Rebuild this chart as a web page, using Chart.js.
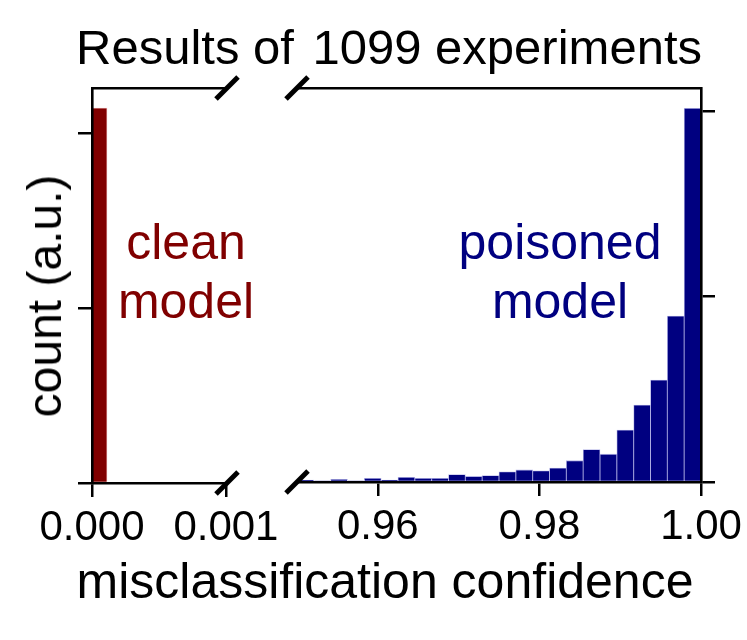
<!DOCTYPE html>
<html>
<head>
<meta charset="utf-8">
<script src="https://cdn.jsdelivr.net/npm/chart.js@4.4.1/dist/chart.umd.min.js"></script>
<style>
html,body{margin:0;padding:0;background:#fff;}
#wrap{position:relative;width:747px;height:640px;overflow:hidden;font-family:"Liberation Sans",Arial,sans-serif;color:#000;}
#wrap canvas{position:absolute;left:0;top:0;}
.t{position:absolute;white-space:nowrap;line-height:1;}
</style>
</head>
<body>
<div id="wrap">
  <canvas id="cl" width="747" height="640"></canvas>
  <canvas id="cr" width="747" height="640"></canvas>
  <div class="t" id="title" style="left:389px;top:23px;font-size:49px;transform:translateX(-50%);">Results of <span style="margin-left:5px">1099</span> experiments</div>
  <div class="t" id="ylab" style="left:45px;top:296px;font-size:48px;transform:translate(-50%,-50%) rotate(-90deg);">count (a.u.)</div>
  <div class="t" id="xlab" style="left:385px;top:556px;font-size:50px;transform:translateX(-50%);">misclassification confidence</div>
  <div class="t" style="left:186px;top:217px;font-size:50px;color:#800000;transform:translateX(-50%);">clean</div>
  <div class="t" style="left:186px;top:276px;font-size:50px;color:#800000;transform:translateX(-50%);">model</div>
  <div class="t" style="left:560px;top:217px;font-size:50px;color:#000080;transform:translateX(-50%);">poisoned</div>
  <div class="t" style="left:560px;top:276px;font-size:50px;color:#000080;transform:translateX(-50%);">model</div>
</div>
<script>
// ---------- data ----------
// clean model: histogram bins (bin start values) over 0 .. 0.001008
const cleanBinStarts = [0, 0.000112, 0.000224, 0.000336, 0.000448, 0.00056, 0.000672, 0.000784, 0.000896];
const cleanCounts    = [1071, 0, 0, 0, 0, 0, 0, 0, 0];
const cleanRange     = [0, 0.001008];
const cleanXTicks    = [0, 0.001];
const cleanYTicks    = [0, 500, 1000];
const cleanYMax      = 1128;

// poisoned model: histogram bins (bin start values) over 0.95 .. 1.00
const poisonedBinStarts = [0.9500, 0.9521, 0.9542, 0.9563, 0.9583, 0.9604, 0.9625, 0.9646,
                           0.9667, 0.9688, 0.9708, 0.9729, 0.9750, 0.9771, 0.9792, 0.9813,
                           0.9833, 0.9854, 0.9875, 0.9896, 0.9917, 0.9938, 0.9958, 0.9979];
const poisonedCounts    = [2, 1, 3, 1, 4, 2, 5, 4, 4, 8, 6, 7, 11, 13, 12, 15, 23, 35, 30, 56, 83, 110, 179, 403];
const poisonedRange     = [0.95, 1.00];
const poisonedXTicks    = [0.96, 0.98, 1.00];
const poisonedYTicks    = [0, 200, 400];
const poisonedYMax      = 425;

// ---------- helpers ----------
const FONT = '"Liberation Sans", Arial, sans-serif';
function zeroPad(s){ s.paddingLeft = 0; s.paddingRight = 0; s.paddingTop = 0; s.paddingBottom = 0; }
const spine = {display:true, color:'#000', width:2.6, z:1};

function breakMarks(side){
  return {
    id:'breakMarks',
    afterDraw(chart){
      const {ctx, chartArea:a} = chart;
      const x = side === 'right' ? a.right : a.left;
      ctx.save();
      ctx.strokeStyle = '#000';
      ctx.lineWidth = 5;
      ctx.lineCap = 'butt';
      for (const y of [a.top, a.bottom]) {
        ctx.beginPath();
        ctx.moveTo(x - 11, y + 11);
        ctx.lineTo(x + 11, y - 11);
        ctx.stroke();
      }
      ctx.restore();
    }
  };
}

function makeChart(id, o){
  return new Chart(document.getElementById(id), {
    type:'bar',
    data:{
      labels:o.bins.map(String),
      datasets:[{
        data:o.counts,
        backgroundColor:o.color,
        borderColor:o.edge,
        borderWidth:0.8,
        barPercentage:1,
        categoryPercentage:1,
        xAxisID:'xc',
        yAxisID:'y'
      }]
    },
    options:{
      responsive:false,
      animation:false,
      layout:{padding:o.padding},
      plugins:{legend:{display:false}, tooltip:{enabled:false}, title:{display:false}},
      scales:{
        xc:{type:'category', display:false, offset:true, grid:{display:false}},
        x:{
          type:'linear', position:'bottom', min:o.range[0], max:o.range[1], offset:false,
          afterBuildTicks:s=>{ s.ticks = o.xTicks.map(v=>({value:v})); },
          ticks:{callback:v=>Number(v).toFixed(o.dec), color:'#000', font:{family:FONT, size:42}, padding:6, autoSkip:false, maxRotation:0, minRotation:0},
          grid:{offset:false, drawOnChartArea:false, drawTicks:true, tickLength:14, color:'#000', lineWidth:2.5},
          border:spine,
          afterFit:s=>{ s.height = 157; zeroPad(s); }
        },
        xt:{
          type:'linear', position:'top', min:o.range[0], max:o.range[1], offset:false,
          ticks:{display:false}, grid:{display:false, offset:false}, border:spine,
          afterFit:s=>{ s.height = 0; zeroPad(s); }
        },
        y:{
          type:'linear', position:o.ySide, min:0, max:o.yMax,
          afterBuildTicks:s=>{ s.ticks = o.yTicks.map(v=>({value:v})); },
          ticks:{display:false},
          grid:{drawOnChartArea:false, drawTicks:true, tickLength:14, color:'#000', lineWidth:2.5},
          border:spine,
          afterFit:s=>{ s.width = 0; zeroPad(s); }
        }
      }
    },
    plugins:[breakMarks(o.breakSide)]
  });
}

makeChart('cl', {
  bins:cleanBinStarts, counts:cleanCounts, color:'#800000', edge:'rgba(230,150,150,0.7)',
  range:cleanRange, xTicks:cleanXTicks, dec:3, yTicks:cleanYTicks, yMax:cleanYMax, ySide:'left',
  padding:{left:92, right:747-227, top:88, bottom:0}, breakSide:'right'
});

makeChart('cr', {
  bins:poisonedBinStarts, counts:poisonedCounts, color:'#000080', edge:'rgba(150,150,220,0.7)',
  range:poisonedRange, xTicks:poisonedXTicks, dec:2, yTicks:poisonedYTicks, yMax:poisonedYMax, ySide:'right',
  padding:{left:297, right:747-701, top:88, bottom:1}, breakSide:'left'
});
</script>
</body>
</html>
